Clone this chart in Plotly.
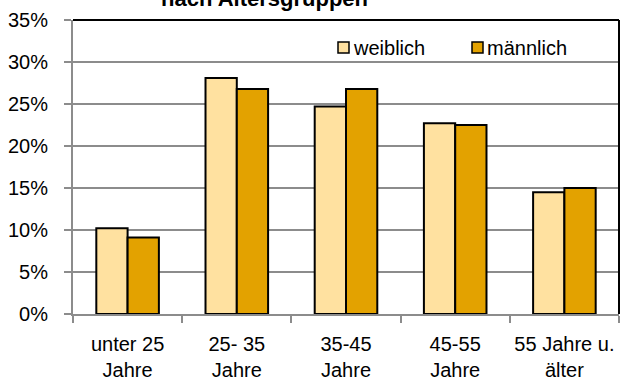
import plotly.graph_objects as go

# Age groups and the share of each sex per group (in percent)
categories = ["unter 25<br>Jahre", "25- 35<br>Jahre", "35-45<br>Jahre", "45-55<br>Jahre", "55 Jahre u.<br>älter"]
series_names = ["weiblich", "männlich"]
weiblich = [10.2, 28.1, 24.7, 22.7, 14.5]
maennlich = [9.1, 26.8, 26.8, 22.5, 15.0]
y_ticks = [0, 5, 10, 15, 20, 25, 30, 35]
y_tick_labels = [f"{v}%" for v in y_ticks]

colors = ["#FFE1A0", "#E3A200"]
FONT = "Liberation Sans, Arial, sans-serif"

W, H = 620, 381
ML, MR, MT, MB = 73, 1, 20, 67
PW, PH = W - ML - MR, H - MT - MB

fig = go.Figure()
for name, vals, col in zip(series_names, [weiblich, maennlich], colors):
    fig.add_trace(go.Bar(
        x=categories, y=vals, name=name,
        marker=dict(color=col, line=dict(color="#000000", width=2)),
        showlegend=False,
    ))


def px_x(p):
    return (p - ML) / PW


def px_y(p):
    return 1 - (p - MT) / PH


shapes = [
    # black frame along the top and right of the plot area
    dict(type="line", xref="paper", yref="paper", x0=0, x1=1, y0=1, y1=1,
         line=dict(color="#000000", width=2)),
    dict(type="line", xref="paper", yref="paper", x0=1, x1=1, y0=0, y1=1,
         line=dict(color="#000000", width=2)),
]

# legend boxes and labels
legend_box_x = [338, 472]
annotations = []
for name, col, bx in zip(series_names, colors, legend_box_x):
    shapes.append(dict(type="rect", xref="paper", yref="paper",
                       x0=px_x(bx), x1=px_x(bx + 11), y0=px_y(53), y1=px_y(42),
                       fillcolor=col, line=dict(color="#000000", width=1.5)))
    annotations.append(dict(text=name, xref="paper", yref="paper",
                            x=px_x(bx + 13), y=px_y(47.5), xanchor="left", yanchor="middle",
                            showarrow=False, font=dict(family=FONT, size=20, color="#000000")))

# chart title (second line, partly above the figure edge)
annotations.append(dict(text="<b>nach Altersgruppen</b>", xref="paper", yref="paper",
                        x=px_x(264), y=px_y(13), xanchor="center", yanchor="bottom",
                        showarrow=False, font=dict(family=FONT, size=22, color="#000000")))

fig.update_layout(
    width=W, height=H,
    margin=dict(l=ML, r=MR, t=MT, b=MB),
    paper_bgcolor="#FFFFFF", plot_bgcolor="#FFFFFF",
    barmode="group", bargap=0.427, bargroupgap=0,
    font=dict(family=FONT, size=20, color="#000000"),
    shapes=shapes, annotations=annotations,
    xaxis=dict(
        showgrid=False, showline=True, linecolor="#8C8C8C", linewidth=2,
        ticks="outside", tickson="boundaries", ticklen=7, tickcolor="#8C8C8C", tickwidth=2,
        ticklabelstandoff=11, tickangle=0, automargin=False,
    ),
    yaxis=dict(
        range=[0, 35], tickvals=y_ticks, ticktext=y_tick_labels,
        showgrid=True, gridcolor="#8C8C8C", gridwidth=2,
        showline=True, linecolor="#8C8C8C", linewidth=2,
        ticks="outside", ticklen=7, tickcolor="#8C8C8C", tickwidth=2,
        ticklabelstandoff=12, zeroline=False, automargin=False,
    ),
)

fig.write_html("out.html")
